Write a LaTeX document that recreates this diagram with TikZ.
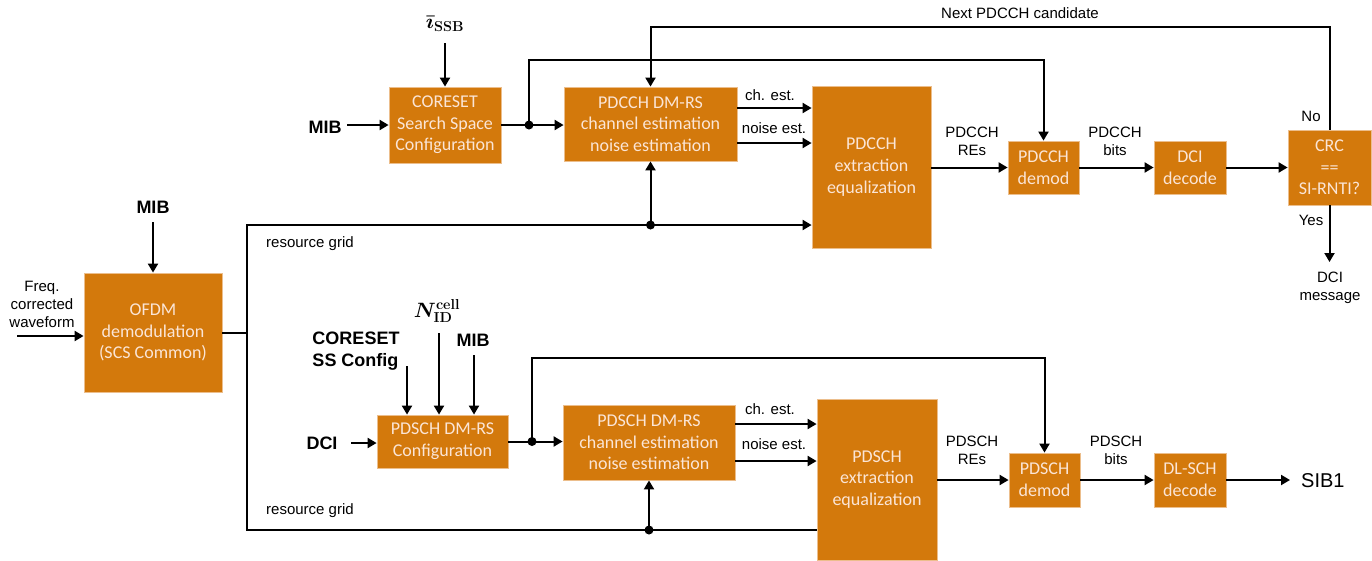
\documentclass[tikz,border=0pt]{standalone}
\usepackage[no-math]{fontspec}
\usepackage{bm}
\setmainfont{Liberation Sans}
\newfontfamily\boxfont{Carlito}
\usetikzlibrary{arrows.meta,calc}
\definecolor{boxfill}{RGB}{211,121,12}
\definecolor{boxtext}{RGB}{251,229,214}
\definecolor{boxedge}{RGB}{236,190,140}
\begin{document}
\begin{tikzpicture}[x=1pt,y=-1pt,
  blk/.style={fill=boxfill, draw=boxedge, line width=0.8pt, text=boxtext,
    font=\boxfont\fontsize{18}{21.7}\selectfont, align=center, inner sep=0pt},
  lbl/.style={font=\fontsize{15}{18}\selectfont, align=center, inner sep=0pt},
  blbl/.style={font=\fontsize{18}{22}\selectfont\bfseries, align=center, inner sep=0pt},
  mlbl/.style={font=\fontsize{20}{24}\selectfont, inner sep=0pt},
  wire/.style={line width=2pt},
  arr/.style={line width=2pt, -{Triangle[length=9pt,width=10pt]}},
  jdot/.style={circle, fill=black, inner sep=0pt, minimum size=9pt}
]
\useasboundingbox (0,0) rectangle (1372,560);

% ---------- blocks ----------
\node[blk, minimum width=138, minimum height=119] (ofdm) at (153,332.5) {OFDM\\demodulation\\(SCS Common)};
\node[blk, minimum width=112, minimum height=76] (coreset) at (445,125) {CORESET\\Search Space\\Configuration};
\node[blk, minimum width=173, minimum height=74] (ccdmrs) at (650.5,124) {PDCCH DM-RS\\channel estimation\\noise estimation};
\node[blk, minimum width=119, minimum height=162] (ccext) at (871.5,167) {PDCCH\\extraction\\equalization};
\node[blk, minimum width=71, minimum height=53] (ccdemod) at (1043.5,167.5) {PDCCH\\demod};
\node[blk, minimum width=72, minimum height=53] (dcidec) at (1190,167.5) {DCI\\decode};
\node[blk, minimum width=83, minimum height=75] (crc) at (1329.5,167.5) {CRC\\==\\SI-RNTI?};
\node[blk, minimum width=131, minimum height=53] (schcfg) at (442.5,441.5) {PDSCH DM-RS\\Configuration};
\node[blk, minimum width=172, minimum height=75] (schdmrs) at (649,442.5) {PDSCH DM-RS\\channel estimation\\noise estimation};
\node[blk, minimum width=120, minimum height=161] (schext) at (877,479.5) {PDSCH\\extraction\\equalization};
\node[blk, minimum width=71, minimum height=54] (schdemod) at (1044.5,480) {PDSCH\\demod};
\node[blk, minimum width=72, minimum height=54] (dlsch) at (1190,480) {DL-SCH\\decode};

% ---------- labels ----------
\node[lbl] (freq) at (42,304) {Freq.\\corrected\\waveform};
\node[blbl] (mib1) at (153,207) {MIB};
\node[blbl] (mib2) at (325,127) {MIB};
\node[mlbl] (issb) at (445,24) {$\bm{\bar{\imath}}_{\mathbf{SSB}}$};
\node[lbl] (rg1) at (310,244) {resource grid};
\node[lbl] (rg2) at (310,511) {resource grid};
\node[lbl] (lce1) at (770,95) {ch. est.};
\node[lbl] (lne1) at (774,128) {noise est.};
\node[lbl] (lre1) at (972,141) {PDCCH\\REs};
\node[lbl] (lbit1) at (1115,141) {PDCCH\\bits};
\node[lbl] (lnext) at (1020,13) {Next PDCCH candidate};
\node[lbl] (lno) at (1311,116) {No};
\node[lbl] (lyes) at (1311,220) {Yes};
\node[lbl] (dcimsg) at (1330,288) {DCI\\message};
\node[blbl, align=left] (css) at (356,351) {CORESET\\SS Config};
\node[mlbl] (nid) at (437,311) {$\bm{N}_{\mathbf{ID}}^{\mathbf{cell}}$};
\node[blbl] (mib3) at (473,340) {MIB};
\node[blbl] (dci) at (322,443) {DCI};
\node[lbl] (lce2) at (770,409) {ch. est.};
\node[lbl] (lne2) at (774,444) {noise est.};
\node[lbl] (lre2) at (972,450) {PDSCH\\REs};
\node[lbl] (lbit2) at (1116,450) {PDSCH\\bits};
\node[mlbl, anchor=west, inner xsep=11pt] (sib) at (1290,481) {SIB1};

% ---------- helper coordinates ----------
\path (17,336) coordinate (fin)
      (153,222) coordinate (m1s)
      (247,225) coordinate (gtop)
      (247,530) coordinate (gbot)
      (347,125) coordinate (m2s)
      (445,43) coordinate (iss)
      (0,60) coordinate (yA)
      (0,27) coordinate (yB)
      (0,108) coordinate (yc1)
      (0,143) coordinate (yn1)
      (1330,262) coordinate (dm)
      (407,366) coordinate (c1s)
      (439,333) coordinate (c2s)
      (474,355) coordinate (c3s)
      (351,443) coordinate (dcis)
      (0,358) coordinate (yD)
      (0,424) coordinate (yc2)
      (0,461) coordinate (yn2);

% ---------- OFDM and resource grid ----------
\draw[arr] (fin) -- (fin -| ofdm.west);
\draw[arr] (m1s) -- (m1s |- ofdm.north);
\draw[wire] (ofdm.east) -- (ofdm.east -| gtop);
\draw[arr] (gbot -| schext.west) -- (gbot) -- (gtop) -- (gtop -| ccext.west);
\node[jdot] (d1) at (ccdmrs.south |- gtop) {};
\draw[arr] (d1.center) -- (ccdmrs.south);
\node[jdot] (d2) at (schdmrs.south |- gbot) {};
\draw[arr] (d2.center) -- (schdmrs.south);

% ---------- PDCCH chain ----------
\draw[arr] (m2s) -- (m2s -| coreset.west);
\draw[arr] (iss) -- (iss |- coreset.north);
\draw[arr] (coreset.east) -- (coreset.east -| ccdmrs.west);
\node[jdot] (dA) at (529,125) {};
\draw[arr] (dA.center) -- (dA.center |- yA) -| (ccdemod.north);
\draw[arr] (crc.north) -- (crc.north |- yB) -| (ccdmrs.north);
\draw[arr] (ccdmrs.east |- yc1) -- (ccext.west |- yc1);
\draw[arr] (ccdmrs.east |- yn1) -- (ccext.west |- yn1);
\draw[arr] (ccext.east |- ccdemod.west) -- (ccdemod.west);
\draw[arr] (ccdemod.east) -- (dcidec.west);
\draw[arr] (dcidec.east) -- (crc.west);
\draw[arr] (crc.south) -- (crc.south |- dm);

% ---------- PDSCH chain ----------
\draw[arr] (c1s) -- (c1s |- schcfg.north);
\draw[arr] (c2s) -- (c2s |- schcfg.north);
\draw[arr] (c3s) -- (c3s |- schcfg.north);
\draw[arr] (dcis) -- (dcis -| schcfg.west);
\draw[arr] (schcfg.east) -- (schcfg.east -| schdmrs.west);
\node[jdot] (dB) at (532,441.5) {};
\draw[arr] (dB.center) -- (dB.center |- yD) -| (schdemod.north);
\draw[arr] (schdmrs.east |- yc2) -- (schext.west |- yc2);
\draw[arr] (schdmrs.east |- yn2) -- (schext.west |- yn2);
\draw[arr] (schext.east |- schdemod.west) -- (schdemod.west);
\draw[arr] (schdemod.east) -- (dlsch.west);
\draw[arr] (dlsch.east) -- (dlsch.east -| sib.west);
\end{tikzpicture}
\end{document}
